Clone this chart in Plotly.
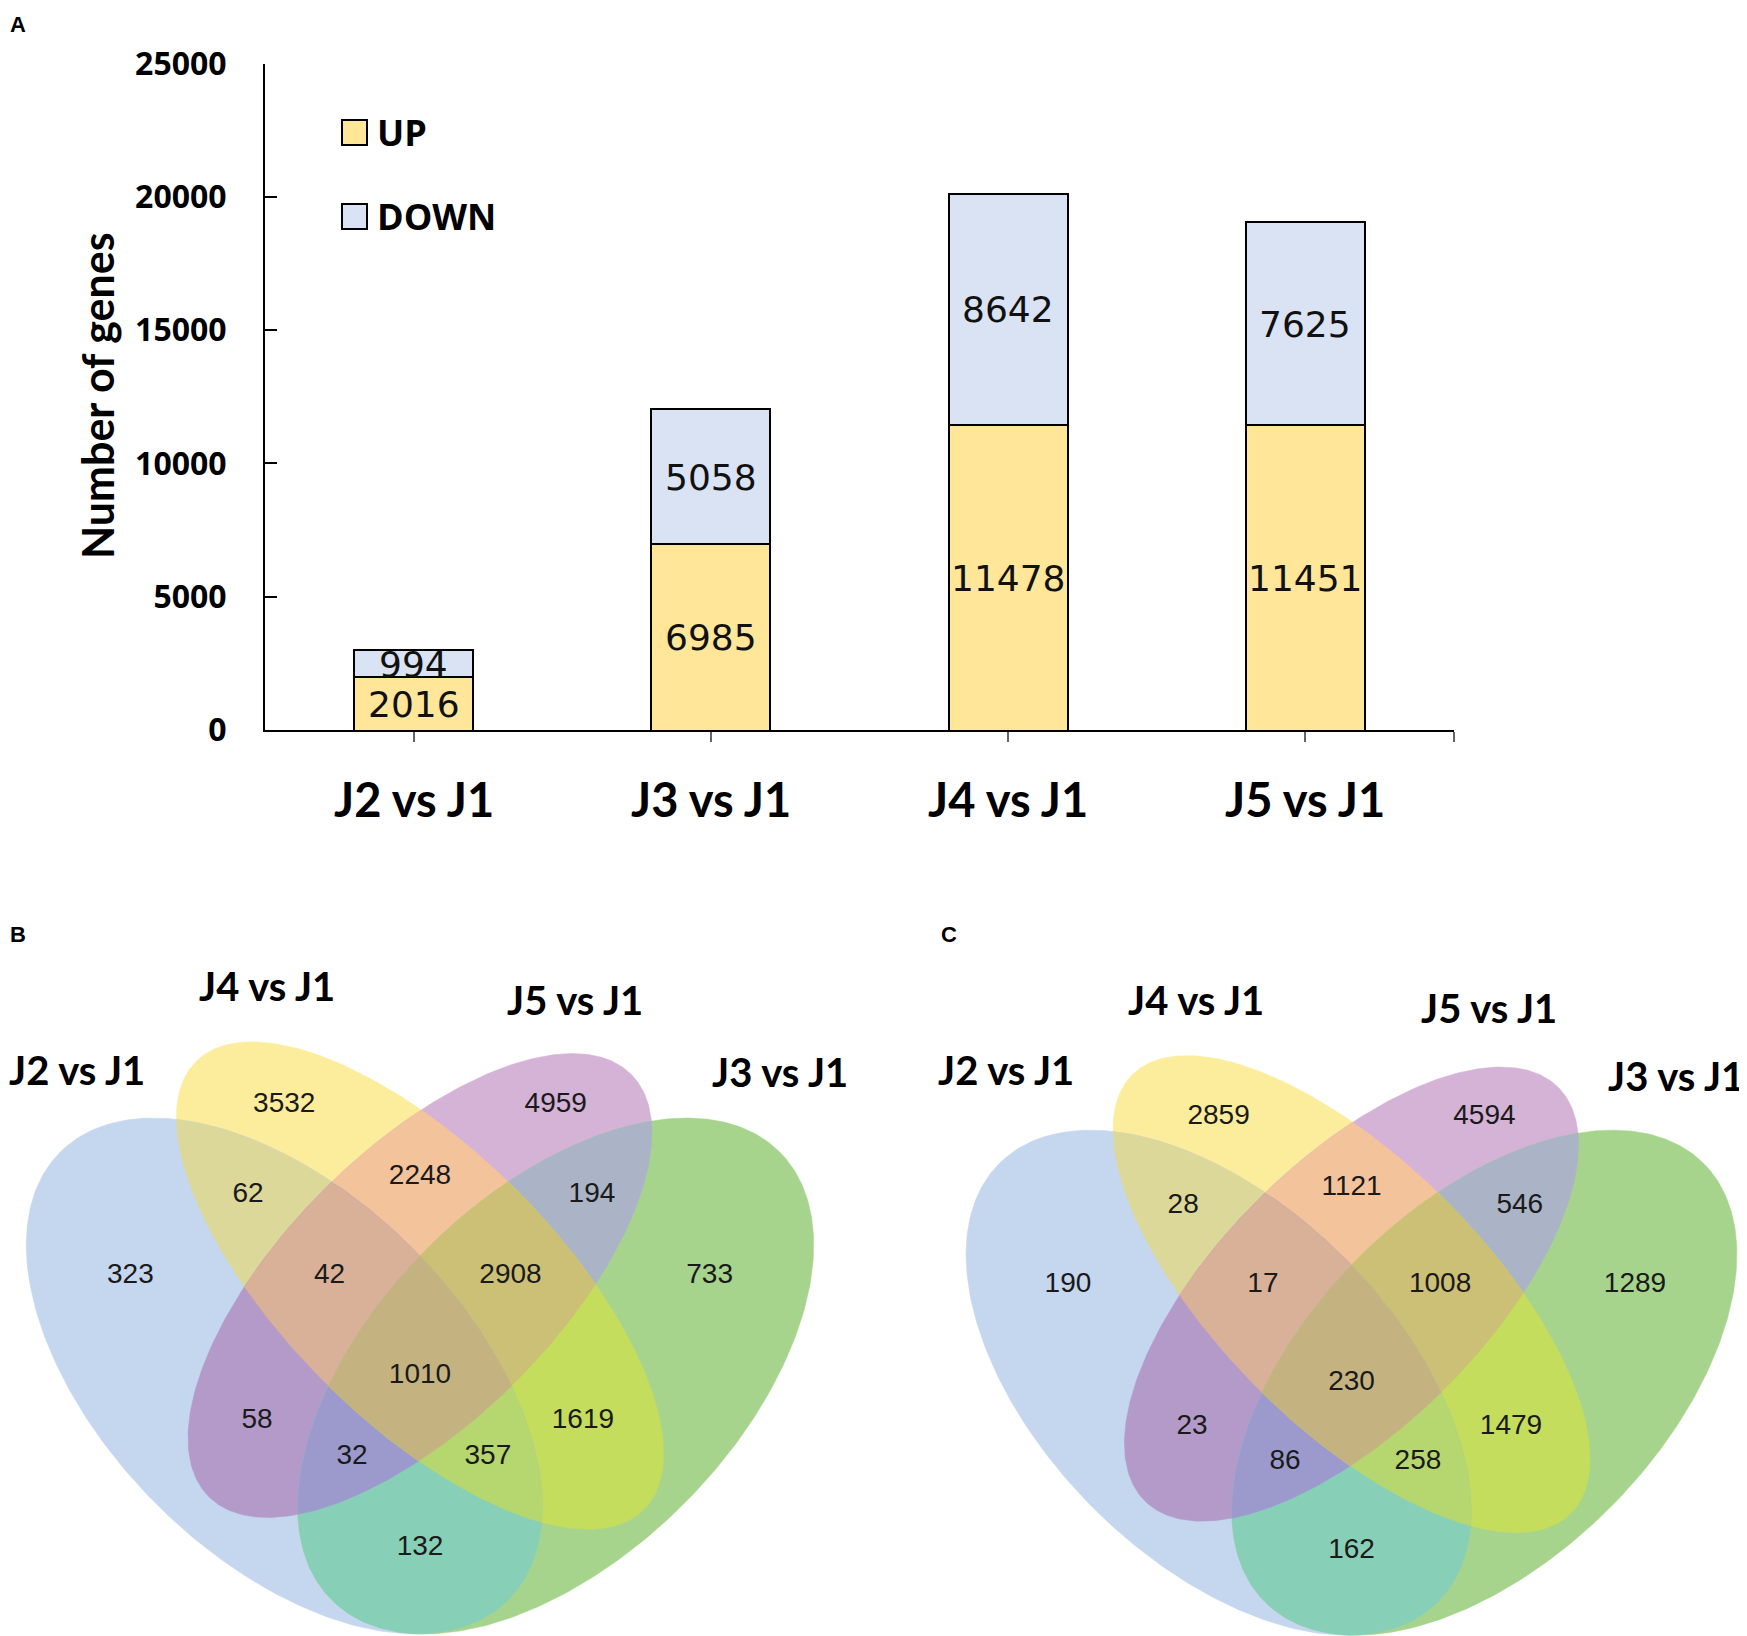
import numpy as np
import plotly.graph_objects as go

# ---------------- data ----------------
categories = ["J2 vs J1", "J3 vs J1", "J4 vs J1", "J5 vs J1"]
up_counts = [2016, 6985, 11478, 11451]
down_counts = [994, 5058, 8642, 7625]
y_ticks = [0, 5000, 10000, 15000, 20000, 25000]
y_tick_labels = ["0", "5000", "10000", "15000", "20000", "25000"]

set_names = ["J2 vs J1", "J4 vs J1", "J5 vs J1", "J3 vs J1"]
set_keys = ["J2", "J4", "J5", "J3"]
region_keys = ["J4", "J5", "J4J5", "J2J4", "J5J3", "J2", "J2J4J5", "J4J5J3",
               "J3", "J2J4J5J3", "J2J5", "J4J3", "J2J5J3", "J2J4J3", "J2J3"]
venn_b_counts = [3532, 4959, 2248, 62, 194, 323, 42, 2908, 733, 1010, 58, 1619, 32, 357, 132]
venn_c_counts = [2859, 4594, 1121, 28, 546, 190, 17, 1008, 1289, 230, 23, 1479, 86, 258, 162]

# ---------------- layout / style ----------------
W, H = 1747, 1636
OFF = 8  # page body margin


def px(x, y):
    return (x - OFF) / W, 1 - (y - OFF) / H


region_pos = {
    "J4": (0.35, 0.77), "J5": (0.65, 0.77), "J4J5": (0.50, 0.69),
    "J2J4": (0.31, 0.67), "J5J3": (0.69, 0.67), "J2": (0.18, 0.58),
    "J2J4J5": (0.40, 0.58), "J4J5J3": (0.60, 0.58), "J3": (0.82, 0.58),
    "J2J4J5J3": (0.50, 0.47), "J2J5": (0.32, 0.42), "J4J3": (0.68, 0.42),
    "J2J5J3": (0.425, 0.38), "J2J4J3": (0.575, 0.38), "J2J3": (0.50, 0.28),
}
region_color = {
    "J2": "#C5D6EF", "J4": "#FCED9C", "J5": "#D4B3D6", "J3": "#A7D48D",
    "J2J4": "#DCD899", "J4J5": "#F3C39C", "J5J3": "#AAB4C6", "J2J4J5": "#D9B199",
    "J4J5J3": "#CCC076", "J2J4J5J3": "#C4B381", "J2J5": "#B39AC9", "J4J3": "#C4DD5D",
    "J2J5J3": "#9C9ACC", "J2J4J3": "#B6D670", "J2J3": "#88CFB8",
}
ellipses = {
    "J2": (0.35, 0.47, 0.35, 0.20, 135),
    "J4": (0.50, 0.57, 0.35, 0.15, 135),
    "J5": (0.50, 0.57, 0.33, 0.15, 45),
    "J3": (0.65, 0.47, 0.35, 0.20, 45),
}


def ellipse_pts(cx, cy, a, b, rot, n=360):
    t = np.linspace(0, 2 * np.pi, n, endpoint=False)
    r = np.deg2rad(rot)
    x = cx + a * np.cos(t) * np.cos(r) - b * np.sin(t) * np.sin(r)
    y = cy + a * np.cos(t) * np.sin(r) + b * np.sin(t) * np.cos(r)
    return list(zip(x, y))


def clip_convex(subject, clipper):
    out = subject
    n = len(clipper)
    for i in range(n):
        if not out:
            break
        ax, ay = clipper[i]
        bx, by = clipper[(i + 1) % n]
        ex, ey = bx - ax, by - ay

        def side(p):
            return ex * (p[1] - ay) - ey * (p[0] - ax)

        inp, out = out, []
        s = inp[-1]
        ss = side(s)
        for e in inp:
            se = side(e)
            if se >= 0:
                if ss < 0:
                    t = ss / (ss - se)
                    out.append((s[0] + t * (e[0] - s[0]), s[1] + t * (e[1] - s[1])))
                out.append(e)
            elif ss >= 0:
                t = ss / (ss - se)
                out.append((s[0] + t * (e[0] - s[0]), s[1] + t * (e[1] - s[1])))
            s, ss = e, se
    return out


ell_pts = {k: ellipse_pts(*v) for k, v in ellipses.items()}
region_sets = {k: [s for s in set_keys if s in k] for k in region_keys}
region_poly = {}
for k, members in region_sets.items():
    poly = ell_pts[members[0]]
    for m in members[1:]:
        poly = clip_convex(poly, ell_pts[m])
    region_poly[k] = poly
paint_order = sorted(region_keys, key=lambda k: len(region_sets[k]))

fig = go.Figure()

# ---------------- panel A ----------------
xpos = list(range(len(categories)))
fig.add_trace(go.Bar(x=xpos, y=up_counts, width=0.4, name="UP",
                     marker=dict(color="#FFE699", line=dict(color="#000000", width=2)),
                     xaxis="x", yaxis="y", showlegend=False, hoverinfo="skip"))
fig.add_trace(go.Bar(x=xpos, y=down_counts, width=0.4, name="DOWN",
                     marker=dict(color="#DAE3F3", line=dict(color="#000000", width=2)),
                     xaxis="x", yaxis="y", showlegend=False, hoverinfo="skip"))

annotations = []
for i, (u, d) in enumerate(zip(up_counts, down_counts)):
    for val, mid in ((u, u / 2), (d, u + d / 2)):
        annotations.append(dict(text=str(val), x=i, y=mid, xref="x", yref="y", yshift=-1,
                                xanchor="center", yanchor="middle", showarrow=False,
                                font=dict(family="DejaVu Sans", size=36, color="#111111")))

# ---------------- panels B & C ----------------
for xa, ya, counts in [("x2", "y2", venn_b_counts), ("x3", "y3", venn_c_counts)]:
    for k in paint_order:
        poly = region_poly[k]
        if not poly:
            continue
        xs = [p[0] for p in poly] + [poly[0][0]]
        ys = [p[1] for p in poly] + [poly[0][1]]
        fig.add_trace(go.Scatter(x=xs, y=ys, mode="lines", fill="toself",
                                 fillcolor=region_color[k], line=dict(width=0.5, color=region_color[k]),
                                 xaxis=xa, yaxis=ya, showlegend=False, hoverinfo="skip"))
    fig.add_trace(go.Scatter(x=[region_pos[k][0] for k in region_keys],
                             y=[region_pos[k][1] for k in region_keys],
                             mode="text", text=[str(c) for c in counts],
                             textfont=dict(family="Liberation Sans", size=28, color="#1a1a1a"),
                             xaxis=xa, yaxis=ya, showlegend=False, hoverinfo="skip"))

tx, ty = px(97, 396)
annotations.append(dict(text="Number of genes", x=tx, y=ty, xref="paper", yref="paper",
                        xanchor="center", yanchor="middle", textangle=-90, showarrow=False,
                        font=dict(family="Lato", size=43, color="#000000", weight="bold")))
cy_ = px(0, 799)[1]
for i, c in enumerate(categories):
    annotations.append(dict(text=c, x=i, y=cy_, xref="x", yref="paper", showarrow=False,
                            xanchor="center", yanchor="middle",
                            font=dict(family="Lato", size=47, color="#000000", weight="bold")))
legend_items = [("UP", "#FFE699", 120, 145), ("DOWN", "#DAE3F3", 204, 229)]
shapes = []
for lab, col, y0, y1 in legend_items:
    x0p, y0p = px(342, y0)
    x1p, y1p = px(367, y1)
    shapes.append(dict(type="rect", xref="paper", yref="paper", x0=x0p, x1=x1p, y0=y1p, y1=y0p,
                       fillcolor=col, line=dict(color="#000000", width=2)))
    lx, ly = px(375, (y0 + y1) / 2)
    annotations.append(dict(text=lab, x=lx, y=ly, xref="paper", yref="paper",
                            xanchor="left", yanchor="middle", showarrow=False,
                            font=dict(family="Open Sans", size=36, color="#000000", weight="bold")))
for lab, x, y in [("A", 18, 24), ("B", 18, 934), ("C", 949, 934)]:
    lx, ly = px(x, y)
    annotations.append(dict(text=lab, x=lx, y=ly, xref="paper", yref="paper", showarrow=False,
                            xanchor="center", yanchor="middle",
                            font=dict(family="Liberation Sans", size=22, color="#000000", weight="bold")))
venn_label_pos = [
    [(77, 1070), (267, 986), (575, 1000), (780, 1072)],
    [(1006, 1070), (1196, 1000), (1489, 1008), (1676, 1076)],
]
for positions in venn_label_pos:
    for name, (x, y) in zip(set_names, positions):
        lx, ly = px(x, y)
        annotations.append(dict(text=name, x=lx, y=ly, xref="paper", yref="paper", showarrow=False,
                                xanchor="center", yanchor="middle",
                                font=dict(family="Lato", size=40, color="#000000", weight="bold")))


# ---------------- axes ----------------
def dom_x(a, b):
    return [max(0.0, (a - OFF) / W), min(1.0, (b - OFF) / W)]


def dom_y(top, bottom):
    return [max(0.0, 1 - (bottom - OFF) / H), min(1.0, 1 - (top - OFF) / H)]


def venn_axes(x0, x1, y0, y1, cxs, cys, scale):
    xr = [0.5 + (x0 - cxs) / scale, 0.5 + (x1 - cxs) / scale]
    yr = [0.47 - (y1 - cys) / scale, 0.47 - (y0 - cys) / scale]
    return xr, yr


hidden = dict(visible=False, showgrid=False, zeroline=False, automargin=False)
bx_r, by_r = venn_axes(OFF, 873 + OFF, 912 + OFF, H + OFF, 420, 1376, 905)
cx_r, cy_r = venn_axes(873 + OFF, W + OFF, 912 + OFF, H + OFF, 1351.5, 1382.7, 886)

fig.update_layout(
    width=W, height=H, margin=dict(l=0, r=0, t=0, b=0, autoexpand=False),
    paper_bgcolor="white", plot_bgcolor="rgba(0,0,0,0)", barmode="stack", bargap=0,
    xaxis=dict(domain=dom_x(265, 1454), range=[-0.5, 3.5],
               tickvals=xpos + [3.5], ticktext=[""] * (len(xpos) + 1),
               ticks="outside", ticklen=10, tickwidth=2, tickcolor="#666666",
               showline=True, linewidth=2, linecolor="#000000", automargin=False,
               showgrid=False, zeroline=False, anchor="y"),
    yaxis=dict(domain=dom_y(63.5, 730), range=[0, 25000],
               tickvals=y_ticks, ticktext=y_tick_labels, ticks="inside", ticklen=12,
               tickwidth=2, tickcolor="#000000", automargin=False,
               showline=True, linewidth=2, linecolor="#000000", ticklabelstandoff=30,
               tickfont=dict(family="Open Sans", size=32, color="#000000", weight="bold"),
               showgrid=False, zeroline=False, anchor="x"),
    xaxis2=dict(domain=[0, 873 / W], range=bx_r, anchor="y2", **hidden),
    yaxis2=dict(domain=[0, 1 - 912 / H], range=by_r, anchor="x2", **hidden),
    xaxis3=dict(domain=[873 / W, 1], range=cx_r, anchor="y3", **hidden),
    yaxis3=dict(domain=[0, 1 - 912 / H], range=cy_r, anchor="x3", **hidden),
    annotations=annotations, shapes=shapes,
)

fig.write_html("out.html")
